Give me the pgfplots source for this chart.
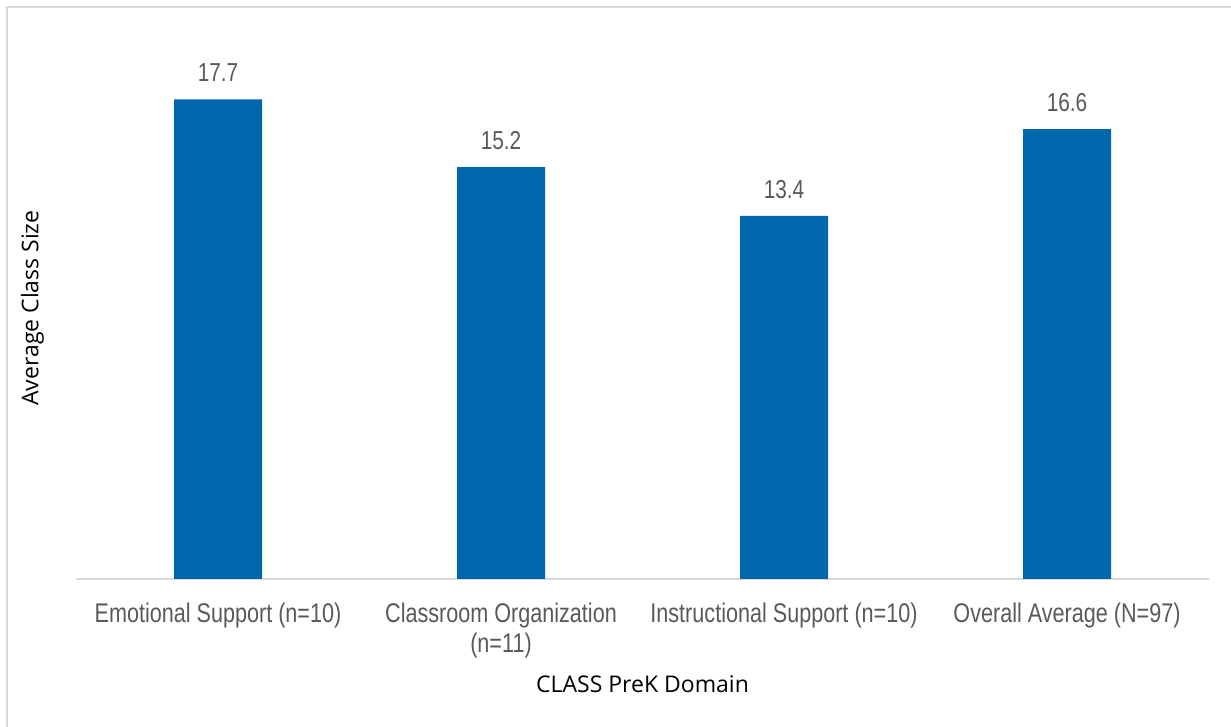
\documentclass[border=0pt]{standalone}
\usepackage{pgfplots}
\pgfplotsset{compat=1.18}
\usepackage{fontspec}
\setmainfont{Liberation Sans}
\newfontfamily\arialn{Liberation Sans}[FakeStretch=0.8]
\newfontfamily\opensans{Open Sans}
\definecolor{barblue}{RGB}{0,103,172}
\definecolor{txtgray}{RGB}{89,89,89}
\definecolor{linegray}{RGB}{217,217,217}
\begin{document}
\begin{tikzpicture}
\useasboundingbox (0,0) rectangle (615.5pt,363.5pt);
\draw[linegray, line width=1pt] (3.5pt,0) -- (3.5pt,360pt) -- (615.5pt,360pt);
\begin{axis}[
  at={(38.25pt,74pt)}, anchor=south west,
  scale only axis, width=566pt, height=271pt,
  xmin=-0.5, xmax=3.5, ymin=0, ymax=20,
  axis y line*=left,
  y axis line style={draw=none},
  ytick=\empty,
  axis x line*=bottom,
  x axis line style={linegray, line width=0.75pt, -},
  xtick=data,
  xticklabels={{Emotional Support (n=10)},{Classroom Organization\\(n=11)},{Instructional Support (n=10)},{Overall Average (N=97)}},
  major tick length=0pt,
  xticklabel style={font=\arialn\fontsize{13.5}{15}\selectfont, text=txtgray, align=center, anchor=north, inner sep=0pt, yshift=-12pt},
  ybar, bar width=44pt,
  /pgf/number format/assume math mode=true,
  nodes near coords={\pgfmathprintnumber[fixed,fixed zerofill,precision=1]{\pgfplotspointmeta}},
  nodes near coords style={font=\arialn\fontsize{13}{14.5}\selectfont, text=txtgray, anchor=south, inner sep=0pt, yshift=8.5pt},
  xlabel={CLASS PreK Domain},
  xlabel style={font=\opensans\fontsize{11.5}{13}\selectfont, at={(axis description cs:0.5,0)}, anchor=center, yshift=-52.5pt},
  ylabel={Average Class Size},
  ylabel style={font=\opensans\fontsize{11.5}{13}\selectfont, at={([xshift=-22pt]axis description cs:0,0.5)}, anchor=center},
  clip=false,
]
\addplot[fill=barblue, draw=none] coordinates {(0,17.7) (1,15.2) (2,13.4) (3,16.6)};
\end{axis}
\end{tikzpicture}
\end{document}
